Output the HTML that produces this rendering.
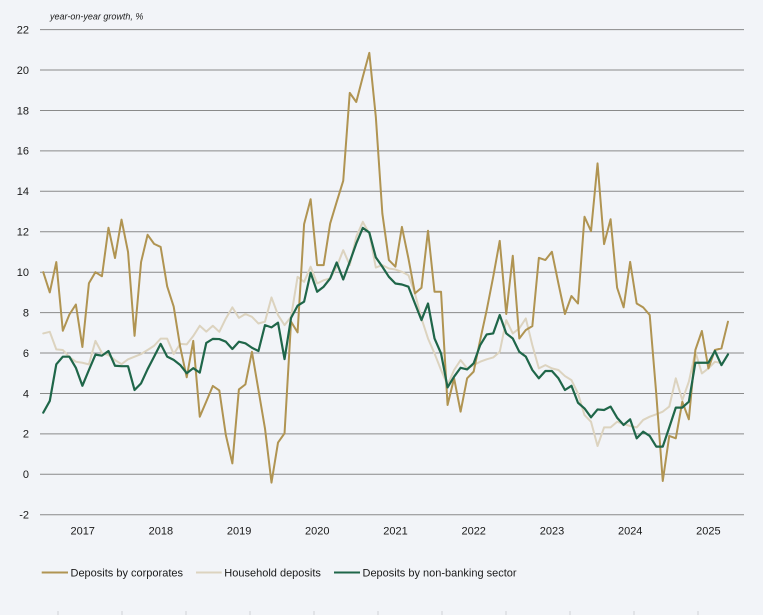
<!DOCTYPE html>
<html>
<head>
<meta charset="utf-8">
<style>
html,body{margin:0;padding:0;background:#ffffff;}
svg{display:block;}
text{font-family:"Liberation Sans",Arial,sans-serif;fill:#1a1a1a;}
</style>
</head>
<body>
<svg width="766" height="615" viewBox="0 0 766 615" xmlns="http://www.w3.org/2000/svg">
<rect x="0" y="0" width="763" height="615" fill="#F2F4F8"/>
<g stroke="#d0d2d6" stroke-width="1">
<line x1="58" y1="611" x2="58" y2="615"/><line x1="122" y1="611" x2="122" y2="615"/><line x1="186" y1="611" x2="186" y2="615"/><line x1="250" y1="611" x2="250" y2="615"/><line x1="314" y1="611" x2="314" y2="615"/><line x1="378" y1="611" x2="378" y2="615"/><line x1="442" y1="611" x2="442" y2="615"/><line x1="506" y1="611" x2="506" y2="615"/><line x1="570" y1="611" x2="570" y2="615"/><line x1="634" y1="611" x2="634" y2="615"/><line x1="698" y1="611" x2="698" y2="615"/>
</g>
<text x="50" y="19.5" font-size="9" font-style="italic">year-on-year growth, %</text>
<g stroke="#8a8a8a" stroke-width="1">
<line x1="40" y1="29.6" x2="744" y2="29.6"/>
<line x1="40" y1="70.05" x2="744" y2="70.05"/>
<line x1="40" y1="110.5" x2="744" y2="110.5"/>
<line x1="40" y1="150.9" x2="744" y2="150.9"/>
<line x1="40" y1="191.3" x2="744" y2="191.3"/>
<line x1="40" y1="231.8" x2="744" y2="231.8"/>
<line x1="40" y1="272.2" x2="744" y2="272.2"/>
<line x1="40" y1="312.6" x2="744" y2="312.6"/>
<line x1="40" y1="353.0" x2="744" y2="353.0"/>
<line x1="40" y1="393.5" x2="744" y2="393.5"/>
<line x1="40" y1="433.9" x2="744" y2="433.9"/>
<line x1="40" y1="474.3" x2="744" y2="474.3"/>
<line x1="40" y1="514.7" x2="744" y2="514.7"/>
</g>
<g font-size="11" text-anchor="end">
<text x="29" y="33.4">22</text>
<text x="29" y="73.9">20</text>
<text x="29" y="114.3">18</text>
<text x="29" y="154.7">16</text>
<text x="29" y="195.1">14</text>
<text x="29" y="235.6">12</text>
<text x="29" y="276">10</text>
<text x="29" y="316.4">8</text>
<text x="29" y="356.8">6</text>
<text x="29" y="397.3">4</text>
<text x="29" y="437.7">2</text>
<text x="29" y="478.1">0</text>
<text x="29" y="518.5">-2</text>
</g>
<g font-size="11" text-anchor="middle">
<text x="82.7" y="534.7">2017</text>
<text x="160.9" y="534.7">2018</text>
<text x="239.1" y="534.7">2019</text>
<text x="317.3" y="534.7">2020</text>
<text x="395.5" y="534.7">2021</text>
<text x="473.7" y="534.7">2022</text>
<text x="552" y="534.7">2023</text>
<text x="630.2" y="534.7">2024</text>
<text x="708.4" y="534.7">2025</text>
</g>
<g transform="translate(43.26,474.3) scale(6.521,-20.2125)" fill="none" stroke-linejoin="round" stroke-linecap="round">
<polyline vector-effect="non-scaling-stroke" stroke="#DCD3BF" stroke-width="2" points="0,6.97 1,7.05 2,6.18 3,6.15 4,5.8 5,5.57 6,5.52 7,5.44 8,6.6 9,6.0 10,5.9 11,5.65 12,5.45 13,5.69 14,5.82 15,5.95 16,6.15 17,6.36 18,6.71 19,6.71 20,5.95 21,6.45 22,6.43 23,6.84 24,7.35 25,7.06 26,7.35 27,7.05 28,7.71 29,8.26 30,7.74 31,7.93 32,7.79 33,7.46 34,7.55 35,8.75 36,7.88 37,7.38 38,7.79 39,9.77 40,9.52 41,10.27 42,9.44 43,9.6 44,9.69 45,10.27 46,11.09 47,10.35 48,11.75 49,12.49 50,11.91 51,10.23 52,10.35 53,10.18 54,10.13 55,10.02 56,9.85 57,8.95 58,7.71 59,6.72 60,5.98 61,5.16 62,4.42 63,5.16 64,5.65 65,5.24 66,5.4 67,5.57 68,5.69 69,5.78 70,6.06 71,7.63 72,6.97 73,7.22 74,7.71 75,6.39 76,5.24 77,5.4 78,5.24 79,5.16 80,4.86 81,4.66 82,4.0 83,2.93 84,2.6 85,1.4 86,2.32 87,2.32 88,2.6 89,2.49 90,2.39 91,2.32 92,2.69 93,2.85 94,2.97 95,3.1 96,3.35 97,4.75 98,3.67 99,4.58 100,6.06 101,4.99 102,5.24 103,5.57 104,5.49"/>
<polyline vector-effect="non-scaling-stroke" stroke="#B09452" stroke-width="2" points="0,10.0 1,9.0 2,10.5 3,7.1 4,7.9 5,8.4 6,6.3 7,9.45 8,10.0 9,9.8 10,12.2 11,10.7 12,12.6 13,11.0 14,6.85 15,10.5 16,11.85 17,11.4 18,11.25 19,9.3 20,8.3 21,6.3 22,4.8 23,6.6 24,2.85 25,3.6 26,4.37 27,4.15 28,1.94 29,0.54 30,4.2 31,4.45 32,6.06 33,4.17 34,2.27 35,-0.41 36,1.57 37,2.03 38,7.55 39,7.02 40,12.38 41,13.61 42,10.35 43,10.35 44,12.41 45,13.48 46,14.52 47,18.87 48,18.42 49,19.66 50,20.85 51,17.68 52,12.9 53,10.6 54,10.27 55,12.24 56,10.68 57,8.95 58,9.23 59,12.05 60,9.03 61,9.03 62,3.43 63,4.75 64,3.1 65,4.75 66,5.08 67,6.64 68,8.12 69,9.77 70,11.55 71,7.93 72,10.81 73,6.72 74,7.14 75,7.33 76,10.71 77,10.6 78,11.01 79,9.44 80,7.93 81,8.82 82,8.45 83,12.74 84,12.03 85,15.38 86,11.39 87,12.62 88,9.23 89,8.26 90,10.51 91,8.45 92,8.26 93,7.88 94,4.0 95,-0.33 96,1.9 97,1.78 98,3.59 99,2.72 100,6.15 101,7.09 102,5.24 103,6.15 104,6.23 105,7.55"/>
<polyline vector-effect="non-scaling-stroke" stroke="#1F6649" stroke-width="2.2" points="0,3.05 1,3.63 2,5.44 3,5.82 4,5.82 5,5.27 6,4.38 7,5.16 8,5.92 9,5.87 10,6.1 11,5.37 12,5.35 13,5.35 14,4.17 15,4.5 16,5.2 17,5.82 18,6.45 19,5.82 20,5.66 21,5.41 22,5.0 23,5.25 24,5.03 25,6.5 26,6.7 27,6.69 28,6.56 29,6.2 30,6.56 31,6.48 32,6.26 33,6.1 34,7.38 35,7.27 36,7.5 37,5.7 38,7.74 39,8.34 40,8.54 41,9.97 42,9.03 43,9.28 44,9.69 45,10.48 46,9.64 47,10.51 48,11.42 49,12.19 50,11.96 51,10.73 52,10.27 53,9.77 54,9.44 55,9.39 56,9.28 57,8.45 58,7.63 59,8.45 60,6.72 61,5.98 62,4.3 63,4.83 64,5.27 65,5.19 66,5.49 67,6.39 68,6.92 69,6.97 70,7.88 71,6.97 72,6.72 73,6.06 74,5.82 75,5.16 76,4.75 77,5.11 78,5.11 79,4.75 80,4.17 81,4.38 82,3.54 83,3.26 84,2.82 85,3.21 86,3.18 87,3.35 88,2.8 89,2.44 90,2.72 91,1.78 92,2.11 93,1.9 94,1.37 95,1.37 96,2.32 97,3.3 98,3.3 99,3.59 100,5.52 101,5.52 102,5.52 103,6.1 104,5.4 105,5.93"/>
</g>
<g stroke-width="2">
<line x1="41.7" y1="572.5" x2="68" y2="572.5" stroke="#B09452"/>
<line x1="196" y1="572.5" x2="221.7" y2="572.5" stroke="#DCD3BF"/>
<line x1="334" y1="572.5" x2="360" y2="572.5" stroke="#1F6649"/>
</g>
<g font-size="11">
<text x="70.5" y="576.5">Deposits by corporates</text>
<text x="224.3" y="576.5">Household deposits</text>
<text x="362.5" y="576.5">Deposits by non-banking sector</text>
</g>
</svg>
</body>
</html>
